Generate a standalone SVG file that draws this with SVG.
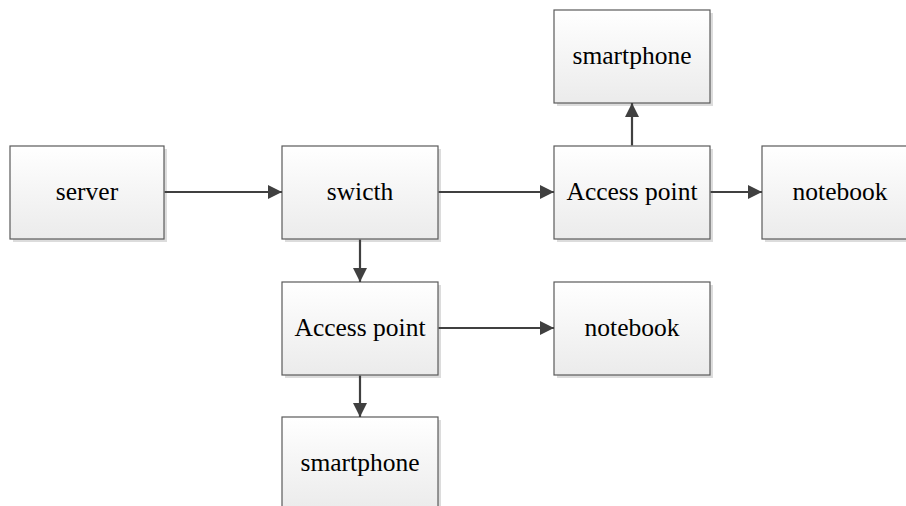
<svg xmlns="http://www.w3.org/2000/svg" width="906" height="506" viewBox="0 0 906 506">
<defs>
<linearGradient id="g" x1="0" y1="0" x2="0" y2="1">
<stop offset="0" stop-color="#ffffff"/>
<stop offset="1" stop-color="#ebebeb"/>
</linearGradient>
<marker id="ah" markerWidth="14" markerHeight="14" refX="14" refY="7" orient="auto" markerUnits="userSpaceOnUse">
<path d="M0,0 L14,7 L0,14 z" fill="#404040"/>
</marker>
</defs>
<style>
.sh{fill:#dcdcdc}
.bx{fill:url(#g);stroke:#5a5a5a;stroke-width:1.2}
.t{font-family:'Liberation Serif',serif;font-size:25.5px;fill:#000;text-anchor:middle}
.c{stroke:#404040;stroke-width:2.2;fill:none;marker-end:url(#ah)}
</style>
<rect width="906" height="506" fill="#fff"/>
<g id="server">
<rect class="sh" x="13" y="149" width="154" height="93"/>
<rect class="bx" x="10" y="146" width="154" height="93"/>
<text class="t" x="87" y="200">server</text>
</g>
<g id="switch">
<rect class="sh" x="285" y="149" width="156" height="93"/>
<rect class="bx" x="282" y="146" width="156" height="93"/>
<text class="t" x="360" y="200">swicth</text>
</g>
<g id="ap1">
<rect class="sh" x="557" y="149" width="156" height="93"/>
<rect class="bx" x="554" y="146" width="156" height="93"/>
<text class="t" x="632" y="200">Access point</text>
</g>
<g id="smartphone1">
<rect class="sh" x="557" y="13" width="156" height="93"/>
<rect class="bx" x="554" y="10" width="156" height="93"/>
<text class="t" x="632" y="64">smartphone</text>
</g>
<g id="notebook1">
<rect class="sh" x="765" y="149" width="156" height="93"/>
<rect class="bx" x="762" y="146" width="156" height="93"/>
<text class="t" x="840" y="200">notebook</text>
</g>
<g id="ap2">
<rect class="sh" x="285" y="285" width="156" height="93"/>
<rect class="bx" x="282" y="282" width="156" height="93"/>
<text class="t" x="360" y="336">Access point</text>
</g>
<g id="notebook2">
<rect class="sh" x="557" y="285" width="156" height="93"/>
<rect class="bx" x="554" y="282" width="156" height="93"/>
<text class="t" x="632" y="336">notebook</text>
</g>
<g id="smartphone2">
<rect class="sh" x="285" y="420" width="156" height="93"/>
<rect class="bx" x="282" y="417" width="156" height="93"/>
<text class="t" x="360" y="471">smartphone</text>
</g>
<g id="connectors">
<line class="c" x1="164.6" y1="192" x2="282" y2="192"/>
<line class="c" x1="438.6" y1="192" x2="554" y2="192"/>
<line class="c" x1="632" y1="145.4" x2="632" y2="103"/>
<line class="c" x1="710.6" y1="192" x2="762" y2="192"/>
<line class="c" x1="360" y1="239.6" x2="360" y2="282"/>
<line class="c" x1="438.6" y1="328" x2="554" y2="328"/>
<line class="c" x1="360" y1="375.6" x2="360" y2="417"/>
</g>
</svg>
